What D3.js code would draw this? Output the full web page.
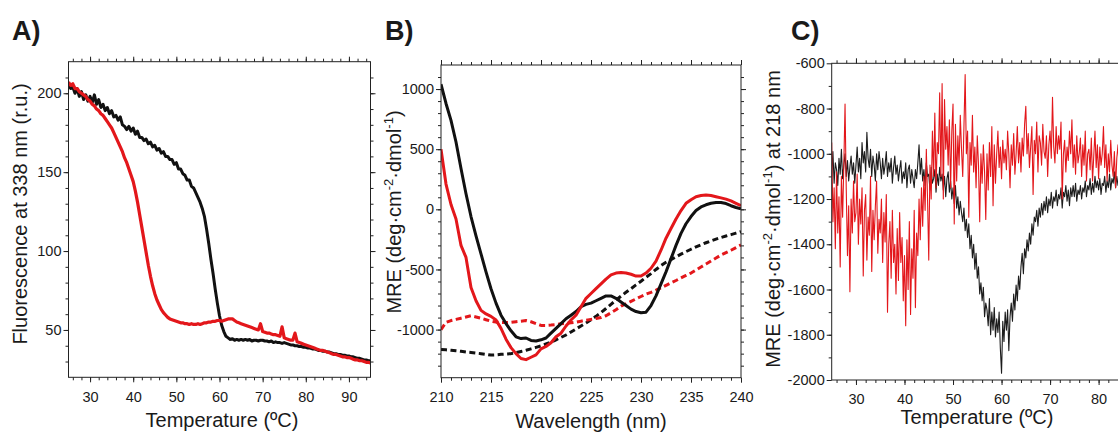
<!DOCTYPE html>
<html>
<meta charset="utf-8" />
<script src="https://d3js.org/d3.v7.min.js"></script>
<style>
  body { margin: 0; background: #fff; }
  svg text { font-family: "Liberation Sans", Arial, Helvetica, sans-serif; fill: #1a1a1a; }
  .tick text { font-size: 14.5px; }
  .tick line, .frame { stroke: #222; }
</style>
<body>
<div id="my_dataviz"></div>
<script>
// ---- A) intrinsic fluorescence vs temperature (0.5 ºC steps, 25..95)
var tempA = d3.range(25, 95.001, 0.5);
var fluoBlack = [
  205, 203, 204, 200, 203, 198, 201, 196, 199, 195,
  198, 194, 199, 193, 196, 191, 193, 189, 191, 187,
  189, 185, 186, 183, 185, 180, 179, 177, 179, 176,
  178, 174, 176, 172, 172, 170, 171, 168, 169, 166,
  167, 164, 165, 162, 163, 160, 160, 158, 158, 155,
  156, 152, 152, 149, 148, 145, 145, 141, 140, 137,
  134, 131, 127, 122, 114, 105, 95, 86, 76, 67,
  59, 53, 49, 46, 45, 44, 44.5, 43.5, 44, 43.5,
  44, 43.5, 44, 43.5, 44, 43, 43.5, 43.5, 43, 43.5,
  43.5, 43, 43, 42.5, 43, 42, 42.5, 42, 42, 41.5,
  42, 41.5, 41, 40.5, 40.5, 40, 40, 39.5, 39.5, 39,
  39, 38.5, 38.5, 38, 38, 37.5, 37, 37, 36.5, 36.5,
  36, 36, 35.5, 35, 35, 34.5, 34.5, 34, 34, 33.5,
  33.5, 33, 33, 32.5, 32, 32, 31.5, 31, 31, 30.5,
  30.5
];
var fluoRed = [
  207, 205, 206, 203, 203, 201, 200, 199, 198, 196,
  195, 193, 192, 190, 189, 187, 186, 184, 182, 180,
  178, 175, 172, 169, 166, 163, 159, 156, 152, 148,
  144, 138, 131, 123, 115, 107, 99, 91, 84, 78,
  73, 69, 66, 63, 61, 59.5, 58, 57, 56.5, 56,
  55.5, 55, 54.5, 54.5, 54, 54, 53.5, 54, 53.5, 53.5,
  54, 53.5, 54, 54.5, 54.5, 55, 55, 55.5, 55.5, 56,
  56, 55.5, 56, 56.5, 57, 57, 57, 56, 55, 54.5,
  54, 53.5, 53, 52.5, 52, 51.5, 51, 50.5, 50, 54,
  49, 48.5, 48, 48, 47.5, 47, 47, 46.5, 46, 52,
  45, 44.5, 44, 43.5, 43.5, 48, 42.5, 42, 41.5, 41,
  40.5, 40, 39.5, 39, 38.5, 38, 37.5, 37, 37, 36.5,
  36, 35.5, 35, 34.5, 34.5, 34, 33.5, 33, 33, 32.5,
  32.5, 32, 31.5, 31, 31, 30.5, 30.5, 30, 29.5, 29.5,
  29
];

// ---- B) far-UV CD spectra (0.5 nm steps, 210..240)
var waveB = d3.range(210, 240.001, 0.5);
var mreBlack = [
  1040, 880, 740, 560, 340, 130, -60, -220, -370, -520,
  -660, -780, -880, -950, -1010, -1060, -1075, -1070, -1090, -1095,
  -1085, -1070, -1030, -990, -950, -910, -880, -850, -810, -790,
  -780, -760, -740, -720, -720, -740, -770, -800, -830, -850,
  -860, -855, -800, -720, -620, -520, -410, -300, -200, -120,
  -60, -10, 20, 38, 50, 56, 56, 48, 30, 15,
  5
];
var mreRed = [
  500, 210, 40, -80, -300, -400, -650, -760, -840, -870,
  -890, -920, -990, -1080, -1150, -1200, -1240, -1250, -1230, -1210,
  -1160, -1140, -1110, -1060, -1030, -970, -920, -880, -810, -740,
  -700, -660, -620, -580, -545, -530, -525, -530, -540, -555,
  -555, -530, -490, -430, -340, -240, -160, -80, -10, 50,
  80, 105, 115, 120, 115, 105, 95, 85, 70, 50,
  30
];
var mreBlackHot = [
  -1165, -1168, -1172, -1176, -1180, -1186, -1190, -1195, -1200, -1206,
  -1212, -1210, -1206, -1203, -1200, -1192, -1182, -1172, -1160, -1148,
  -1135, -1120, -1105, -1085, -1065, -1045, -1020, -995, -970, -945,
  -918, -890, -858, -825, -790, -755, -722, -690, -660, -628,
  -598, -566, -535, -500, -468, -440, -418, -395, -372, -352,
  -332, -312, -295, -278, -262, -248, -234, -222, -210, -198,
  -185
];
var mreRedHot = [
  -1000, -940, -925, -915, -905, -895, -885, -895, -905, -918,
  -930, -938, -940, -942, -940, -935, -930, -925, -935, -950,
  -965, -965, -962, -958, -952, -948, -944, -938, -930, -922,
  -915, -908, -900, -885, -860, -835, -805, -785, -765, -745,
  -725, -705, -690, -672, -652, -632, -612, -592, -570, -550,
  -530, -505, -480, -455, -430, -405, -380, -360, -340, -318,
  -296
];

// ---- C) MRE at 218 nm vs temperature (0.25 ºC steps, 25..86)
var tempC = d3.range(25, 86.001, 0.25);
var meltBlack = [
  -1100, -990, -1130, -1040,  -1070, -1140, -1020, -1090,  -980, -1110, -1050, -1000,
  -1100, -1030, -1120, -1060,  -1010, -1090, -1040, -1130,  -1050, -970, -1080, -1020,
  -1110, -950, -1040, -990,  -1080, -905, -1020, -1060,  -980, -1100, -1010, -1050,
  -1120, -1000, -1070, -990,  -1040, -1110, -1020, -1090,  -1050, -990, -1100, -1040,
  -1080, -1020, -1130, -1060,  -1010, -1090, -1050, -1120,  -1070, -1030, -1130, -1080,
  -1110, -1040, -1150, -1070,  -1050, -1130, -1070, -1110,  -1150, -1070, -1110, -1040,
  -960, -1090, -1020, -1120,  -1070, -1140, -1040, -1100,  -1090, -1160, -1060, -1130,
  -1110, -1070, -1170, -1090,  -1140, -1060, -1120, -1090,  -1160, -1100, -1190, -1110,
  -1080, -1170, -1120, -1200,  -1150, -1220, -1140, -1240,  -1190, -1270, -1210, -1260,
  -1300, -1240, -1340, -1290,  -1370, -1310, -1420, -1360,  -1460, -1400, -1510, -1440,
  -1550, -1500, -1620, -1570,  -1650, -1590, -1720, -1660,  -1690, -1760, -1640, -1800,
  -1700, -1780, -1680, -1810,  -1730, -1790, -1700, -1860,  -1970, -1740, -1830, -1700,
  -1780, -1690, -1870, -1720,  -1660, -1740, -1620, -1690,  -1580, -1650, -1540, -1600,
  -1500, -1440, -1530, -1420,  -1460, -1380, -1430, -1350,  -1400, -1310, -1360, -1280,
  -1300, -1250, -1320, -1240,  -1280, -1220, -1270, -1210,  -1250, -1190, -1260, -1200,
  -1230, -1170, -1240, -1190,  -1210, -1160, -1230, -1180,  -1200, -1150, -1240, -1170,
  -1190, -1140, -1210, -1160,  -1230, -1150, -1190, -1140,  -1190, -1130, -1210, -1160,
  -1180, -1140, -1200, -1150,  -1170, -1120, -1190, -1140,  -1160, -1110, -1180, -1130,
  -1170, -1100, -1150, -1120,  -1160, -1110, -1180, -1130,  -1140, -1100, -1170, -1120,
  -1150, -1090, -1160, -1110,  -1130, -1080, -1150, -1100,  -1140, -1090, -1160, -1110,
  -1120, -1080, -1150, -1100,
  -1130
];
var meltRed = [
  -950, -1300, -1150, -1420,  -1080, -1350, -1190, -1500,  -1100, -1280, -1050, -780,
  -1160, -1450, -1230, -1610,  -1200, -1350, -1120, -1300,  -1260, -1090, -1400, -1200,
  -1310, -1150, -1540, -1250,  -1180, -1470, -1280, -1360,  -1100, -1520, -1250, -1380,
  -1230, -1120, -1440, -1290,  -1350, -1200, -1480, -1260,  -1390, -1180, -1700, -1400,
  -1300, -1550, -1250, -1480,  -1400, -1620, -1330, -1560,  -1260, -1480, -1370, -1650,
  -1450, -1760, -1380, -1600,  -1300, -1710, -1420, -1550,  -1250, -1680, -1350, -1450,
  -1200, -1380, -1150, -1320,  -1100, -1250, -980, -1200,  -1470, -1050, -1200, -900,
  -1100, -820, -1150, -950,  -1000, -730, -1100, -690,  -1200, -760, -980, -880,
  -1050, -850, -1150, -900,  -780, -1310, -870, -1120,  -920, -1050, -830, -980,
  -1100, -880, -650, -1000,  -900, -1280, -950, -1050,  -830, -1080, -970, -1150,
  -920, -1050, -1300, -1000,  -1130, -960, -1080, -1290,  -1000, -1160, -950, -1100,
  -880, -1230, -960, -1130,  -1000, -900, -1060, -970,  -1110, -940, -1040, -980,
  -1070, -900, -1000, -1150,  -960, -1050, -910, -1090,  -1000, -880, -1040, -950,
  -1080, -930, -1010, -870,  -790, -1000, -910, -1060,  -970, -880, -1180, -940,
  -1000, -860, -1080, -920,  -950, -1050, -870, -990,  -1020, -920, -1100, -960,
  -900, -1020, -750, -970,  -1040, -880, -1000, -920,  -980, -860, -1200, -1000,
  -940, -1080, -970, -1030,  -900, -1000, -850, -1060,  -960, -1090, -920, -1040,
  -1000, -930, -1100, -960,  -1050, -900, -1120, -1000,  -980, -1070, -930, -1120,
  -1010, -900, -1060, -960,  -1110, -970, -1050, -1000,  -880, -1060, -960, -1120,
  -1000, -1080, -940, -1050,  -1100, -990, -1150, -1020,  -960, -1080, -1000, -1140,
  -1050, -990, -1110, -1020,
  -1060
];

var RED = "#e3171b", BLACK = "#111";

var svg = d3.select("#my_dataviz")
  .append("svg")
    .attr("width", 1118)
    .attr("height", 434);
svg.append("rect").attr("width", 1118).attr("height", 434).attr("fill", "#fff");

var clipId = 0;
function panel(o) {
  var g = svg.append("g");
  var x = d3.scaleLinear().domain(o.xd).range(o.xr);
  var y = d3.scaleLinear().domain(o.yd).range(o.yr);
  var x0 = o.xr[0], x1 = o.xr[1], yb = o.yr[0], yt = o.yr[1];

  function clean(a) {
    a.select(".domain").remove();
    a.attr("font-size", null).attr("font-family", null);
    return a;
  }
  // minor ticks
  clean(g.append("g").attr("transform", "translate(0," + yb + ")")
    .call(d3.axisBottom(x).tickValues(o.xMinor).tickSize(3).tickFormat("")));
  clean(g.append("g").attr("transform", "translate(0," + yt + ")")
    .call(d3.axisTop(x).tickValues(o.xMinor).tickSize(3).tickFormat("")));
  clean(g.append("g").attr("transform", "translate(" + x0 + ",0)")
    .call(d3.axisLeft(y).tickValues(o.yMinor).tickSize(3).tickFormat("")));
  clean(g.append("g").attr("transform", "translate(" + x1 + ",0)")
    .call(d3.axisRight(y).tickValues(o.yMinor).tickSize(3).tickFormat("")));
  // major ticks
  clean(g.append("g").attr("transform", "translate(0," + yb + ")")
    .call(d3.axisBottom(x).tickValues(o.xMajor).tickSize(5).tickPadding(9).tickFormat(String)));
  clean(g.append("g").attr("transform", "translate(0," + yt + ")")
    .call(d3.axisTop(x).tickValues(o.xMajor).tickSize(5).tickFormat("")));
  clean(g.append("g").attr("transform", "translate(" + x0 + ",0)")
    .call(d3.axisLeft(y).tickValues(o.yMajor).tickSize(5).tickPadding(2).tickFormat(String)));
  clean(g.append("g").attr("transform", "translate(" + x1 + ",0)")
    .call(d3.axisRight(y).tickValues(o.yMajor).tickSize(5).tickFormat("")));

  var id = "clip" + (clipId++);
  g.append("clipPath").attr("id", id).append("rect")
    .attr("x", x0).attr("y", yt).attr("width", x1 - x0).attr("height", yb - yt);
  var plot = g.append("g").attr("clip-path", "url(#" + id + ")");

  o.series.forEach(function(s) {
    plot.append("path")
      .datum(s.v)
      .attr("fill", "none")
      .attr("stroke", s.color)
      .attr("stroke-width", s.w)
      .attr("stroke-dasharray", s.dash || null)
      .attr("stroke-linejoin", "round")
      .attr("d", d3.line()
        .x(function(d, i) { return x(s.x[i]); })
        .y(function(d) { return y(d); }));
  });

  g.append("rect").attr("class", "frame")
    .attr("x", x0).attr("y", yt).attr("width", x1 - x0).attr("height", yb - yt)
    .attr("fill", "none").attr("stroke-width", 1);
  return g;
}

panel({
  xd: [25, 95], xr: [68.5, 370.5],
  yd: [20, 220], yr: [377.3, 61.7],
  xMajor: [30, 40, 50, 60, 70, 80, 90], xMinor: d3.range(26, 95, 2),
  yMajor: [50, 100, 150, 200], yMinor: d3.range(30, 220, 10),
  series: [
    { x: tempA, v: fluoBlack, color: BLACK, w: 3 },
    { x: tempA, v: fluoRed, color: RED, w: 3.2 }
  ]
});

panel({
  xd: [210, 240], xr: [441, 741],
  yd: [-1400, 1200], yr: [377.7, 65],
  xMajor: [210, 215, 220, 225, 230, 235, 240], xMinor: d3.range(211, 240, 1),
  yMajor: [-1000, -500, 0, 500, 1000], yMinor: d3.range(-1300, 1200, 100),
  series: [
    { x: waveB, v: mreBlackHot, color: BLACK, w: 3, dash: "6,3.5" },
    { x: waveB, v: mreRedHot, color: RED, w: 3, dash: "6,3.5" },
    { x: waveB, v: mreBlack, color: BLACK, w: 3 },
    { x: waveB, v: mreRed, color: RED, w: 3 }
  ]
});

// C runs past the right edge of the page, as in the original figure
panel({
  xd: [25, 95], xr: [831.7, 1171.4],
  yd: [-2000, -600], yr: [380, 63.3],
  xMajor: [30, 40, 50, 60, 70, 80], xMinor: d3.range(26, 95, 2),
  yMajor: d3.range(-2000, -599, 200), yMinor: d3.range(-1900, -600, 100),
  series: [
    { x: tempC, v: meltBlack, color: "#1c1c1c", w: 1.1 },
    { x: tempC, v: meltRed, color: RED, w: 1.1 }
  ]
});

// panel letters
[["A)", 12], ["B)", 385], ["C)", 791]].forEach(function(p) {
  svg.append("text").attr("x", p[1]).attr("y", 40)
    .attr("font-size", 27).attr("font-weight", "bold").text(p[0]);
});

// axis titles
function xTitle(t, cx, by) {
  svg.append("text").attr("x", cx).attr("y", by).attr("text-anchor", "middle")
    .attr("font-size", 20).text(t);
}
xTitle("Temperature (ºC)", 222, 427);
xTitle("Wavelength (nm)", 591, 428);
xTitle("Temperature (ºC)", 977, 424);

function yTitle(parts, bx, cy) {
  var t = svg.append("text")
    .attr("transform", "translate(" + bx + "," + cy + ") rotate(-90)")
    .attr("text-anchor", "middle").attr("font-size", 20);
  parts.forEach(function(p) {
    var s = t.append("tspan").text(p[0]);
    if (p[1]) s.attr("font-size", 13).attr("dy", -8);
    else if (p[2]) s.attr("dy", 8);
  });
}
yTitle([["Fluorescence at 338 nm (r.u.)"]], 27, 214);
yTitle([["MRE (deg·cm"], ["-2", 1], ["·dmol", 0, 1], ["-1", 1], [")", 0, 1]], 400.5, 212);
yTitle([["MRE (deg·cm"], ["-2", 1], ["·dmol", 0, 1], ["-1", 1], [") at 218 nm", 0, 1]], 780, 219);
</script>
</body>
</html>
